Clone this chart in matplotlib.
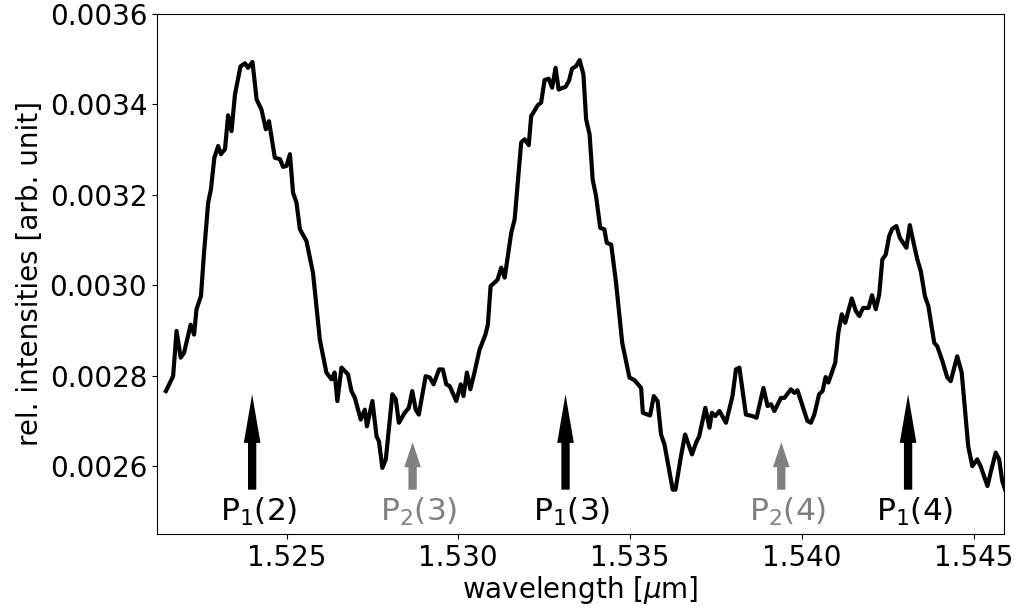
import matplotlib
matplotlib.use("Agg")
import matplotlib.pyplot as plt

# -------------------------------------------------------
# Data
# -------------------------------------------------------

wavelength = [
    1.52149, 1.52170, 1.52180, 1.52192, 1.52202, 1.52221, 1.52231, 1.52238,
    1.52251, 1.52260, 1.52272, 1.52280, 1.52290, 1.52301, 1.52309, 1.52321,
    1.52330, 1.52340, 1.52350, 1.52366, 1.52379, 1.52388, 1.52401, 1.52413,
    1.52427, 1.52440, 1.52449, 1.52466, 1.52481, 1.52490, 1.52500, 1.52510,
    1.52519, 1.52529, 1.52539, 1.52558, 1.52577, 1.52597, 1.52616, 1.52631,
    1.52640, 1.52648, 1.52660, 1.52679, 1.52689, 1.52699, 1.52716, 1.52728,
    1.52734, 1.52750, 1.52762, 1.52769, 1.52779, 1.52789, 1.52808, 1.52818,
    1.52827, 1.52844, 1.52856, 1.52866, 1.52876, 1.52885, 1.52905, 1.52917,
    1.52928, 1.52944, 1.52955, 1.52965, 1.52975, 1.52994, 1.53007, 1.53015,
    1.53025, 1.53035, 1.53047, 1.53062, 1.53079, 1.53086, 1.53094, 1.53114,
    1.53125, 1.53135, 1.53154, 1.53164, 1.53183, 1.53193, 1.53205, 1.53212,
    1.53231, 1.53241, 1.53251, 1.53263, 1.53273, 1.53283, 1.53292, 1.53312,
    1.53322, 1.53331, 1.53343, 1.53353, 1.53364, 1.53372, 1.53382, 1.53391,
    1.53401, 1.53413, 1.53425, 1.53432, 1.53445, 1.53459, 1.53477, 1.53498,
    1.53513, 1.53532, 1.53537, 1.53558, 1.53569, 1.53580, 1.53590, 1.53600,
    1.53624, 1.53632, 1.53648, 1.53660, 1.53680, 1.53692, 1.53701, 1.53719,
    1.53731, 1.53738, 1.53748, 1.53760, 1.53779, 1.53798, 1.53808, 1.53818,
    1.53837, 1.53855, 1.53868, 1.53888, 1.53900, 1.53910, 1.53920, 1.53939,
    1.53949, 1.53968, 1.53978, 1.53987, 1.54002, 1.54016, 1.54026, 1.54036,
    1.54050, 1.54060, 1.54069, 1.54077, 1.54097, 1.54106, 1.54116, 1.54126,
    1.54145, 1.54157, 1.54167, 1.54178, 1.54194, 1.54204, 1.54215, 1.54225,
    1.54234, 1.54244, 1.54254, 1.54263, 1.54275, 1.54285, 1.54304, 1.54314,
    1.54327, 1.54336, 1.54346, 1.54358, 1.54368, 1.54385, 1.54394, 1.54409,
    1.54423, 1.54433, 1.54452, 1.54465, 1.54484, 1.54496, 1.54510, 1.54520,
    1.54540, 1.54549, 1.54564, 1.54574, 1.54583, 1.54595,
]

intensity = [
    0.002766, 0.002799, 0.002899, 0.002840, 0.002851, 0.002913, 0.002891, 0.002947,
    0.002976, 0.003072, 0.003183, 0.003212, 0.003282, 0.003308, 0.003290, 0.003301,
    0.003376, 0.003341, 0.003422, 0.003484, 0.003491, 0.003481, 0.003494, 0.003411,
    0.003389, 0.003345, 0.003363, 0.003282, 0.003279, 0.003262, 0.003264, 0.003290,
    0.003205, 0.003183, 0.003124, 0.003098, 0.003028, 0.002880, 0.002807, 0.002792,
    0.002807, 0.002744, 0.002818, 0.002803, 0.002766, 0.002751, 0.002703, 0.002725,
    0.002688, 0.002744, 0.002666, 0.002655, 0.002596, 0.002615, 0.002759, 0.002748,
    0.002696, 0.002718, 0.002729, 0.002766, 0.002725, 0.002714, 0.002799, 0.002796,
    0.002781, 0.002814, 0.002814, 0.002781, 0.002777, 0.002744, 0.002781, 0.002755,
    0.002807, 0.002770, 0.002807, 0.002858, 0.002891, 0.002913, 0.002998, 0.003012,
    0.003039, 0.003017, 0.003116, 0.003146, 0.003316, 0.003323, 0.003310, 0.003374,
    0.003398, 0.003404, 0.003454, 0.003457, 0.003437, 0.003481, 0.003433, 0.003439,
    0.003452, 0.003479, 0.003485, 0.003498, 0.003467, 0.003367, 0.003334, 0.003234,
    0.003197, 0.003127, 0.003124, 0.003094, 0.003090, 0.003006, 0.002873, 0.002796,
    0.002790, 0.002773, 0.002718, 0.002712, 0.002755, 0.002744, 0.002670, 0.002648,
    0.002548, 0.002548, 0.002622, 0.002670, 0.002626, 0.002652, 0.002666, 0.002729,
    0.002685, 0.002718, 0.002711, 0.002722, 0.002696, 0.002755, 0.002814, 0.002818,
    0.002714, 0.002711, 0.002707, 0.002773, 0.002733, 0.002737, 0.002722, 0.002751,
    0.002751, 0.002770, 0.002762, 0.002768, 0.002733, 0.002700, 0.002696, 0.002714,
    0.002759, 0.002766, 0.002797, 0.002785, 0.002829, 0.002895, 0.002936, 0.002917,
    0.002971, 0.002943, 0.002932, 0.002950, 0.002950, 0.002978, 0.002947, 0.002980,
    0.003057, 0.003068, 0.003109, 0.003125, 0.003131, 0.003105, 0.003083, 0.003133,
    0.003087, 0.003057, 0.003031, 0.002976, 0.002954, 0.002873, 0.002865, 0.002832,
    0.002796, 0.002788, 0.002843, 0.002807, 0.002644, 0.002600, 0.002615, 0.002600,
    0.002556, 0.002585, 0.002630, 0.002615, 0.002567, 0.002540,
]

# line positions and labels
line_pos = [1.52400, 1.52867, 1.53312, 1.53940, 1.54309]
line_labels = ["P$_1$(2)", "P$_2$(3)", "P$_1$(3)", "P$_2$(4)", "P$_1$(4)"]
line_colors = ["black", "gray", "black", "gray", "black"]
line_tops = [0.002759, 0.002653, 0.002759, 0.002653, 0.002759]

# -------------------------------------------------------
# Plot
# -------------------------------------------------------

plt.rcParams["font.size"] = 20

fig = plt.figure(figsize=(10.14, 6.12), dpi=100)
ax = fig.add_axes([0.1548, 0.1275, 0.8353, 0.8496])

ax.plot(wavelength, intensity, color="black", linewidth=3)

for x, lab, c, top in zip(line_pos, line_labels, line_colors, line_tops):
    big = c == "black"
    ax.annotate(
        "",
        xy=(x, top),
        xytext=(x, 0.002548),
        arrowprops=dict(
            facecolor=c,
            edgecolor="none",
            width=6,
            headwidth=12,
            headlength=35 if big else 18,
        ),
    )
    ax.annotate(
        lab,
        xy=(x, 0.002498),
        xytext=(4.5, 0),
        textcoords="offset points",
        color=c,
        fontsize=22.5,
        ha="center",
        va="center",
    )

ax.set_xlim(1.52123, 1.54588)
ax.set_ylim(0.00245, 0.0036)
ax.set_xticks([1.525, 1.530, 1.535, 1.540, 1.545])
ax.set_yticks([0.0026, 0.0028, 0.0030, 0.0032, 0.0034, 0.0036])
ax.set_xticklabels(["1.525", "1.530", "1.535", "1.540", "1.545"])
ax.set_yticklabels(["0.0026", "0.0028", "0.0030", "0.0032", "0.0034", "0.0036"])

ax.set_xlabel(r"wavelength [$\mu$m]", labelpad=2)
ax.set_ylabel("rel. intensities [arb. unit]")

fig.savefig("out.png", dpi=100)
